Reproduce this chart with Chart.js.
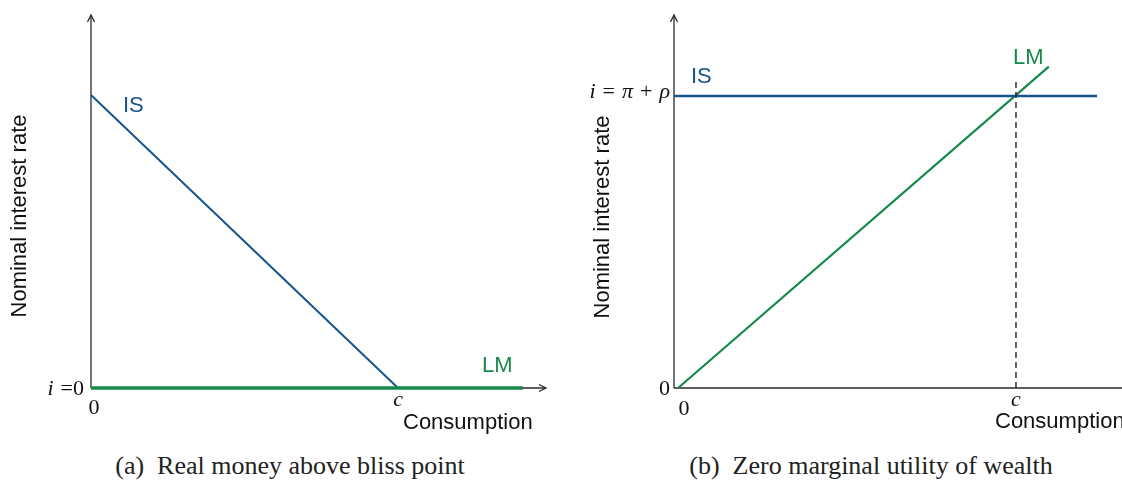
<!DOCTYPE html>
<html>
<head>
<meta charset="utf-8">
<script src="https://cdn.jsdelivr.net/npm/chart.js@4/dist/chart.umd.min.js"></script>
<style>
  body { margin: 0; background: #fff; width: 1122px; height: 485px; position: relative; overflow: hidden; }
  .panel { position: absolute; top: 0; width: 561px; height: 440px; }
  .cap { position: absolute; top: 451px; font: 26px "Liberation Serif", "Times New Roman", serif; color: #222; white-space: pre; transform: translateX(-50%); }
</style>
</head>
<body>
<div class="panel" style="left:0"><canvas id="chartA"></canvas></div>
<div class="panel" style="left:561px"><canvas id="chartB"></canvas></div>
<div class="cap" style="left:290px">(a)  Real money above bliss point</div>
<div class="cap" style="left:871px">(b)  Zero marginal utility of wealth</div>

<script>
// (a) liquidity trap: IS falls to c, LM flat at i = 0
const aIsX = [0, 1];
const aIsY = [1, 0];
const aLmX = [0, 1.407];
const aLmY = [0, 0];
const aXTickVals = [0, 1];
const aXTickText = ['0', 'c'];
const aYTickVals = [0];
const aYTickText = ['i =0'];

// (b) flat IS at i = pi + rho, LM rising through the origin
const bIsX = [0, 1.237];
const bIsY = [1, 1];
const bLmX = [0.012, 1.096];
const bLmY = [0, 1.1];
const bCutX = [1, 1];
const bCutY = [0, 1.05];
const bXTickVals = [0, 1];
const bXTickText = ['0', 'c'];
const bYTickVals = [0, 1];
const bYTickText = ['0', 'i = π + ρ'];

const BLUE = '#14558f';
const GREEN = '#16894a';
const SANS = '"Liberation Sans", Arial, sans-serif';
const SERIF = '"Liberation Serif", "Times New Roman", serif';

function pts(xs, ys) { return xs.map((x, i) => ({ x: x, y: ys[i] })); }

function line(xs, ys, color, width, dash) {
  return {
    data: pts(xs, ys), showLine: true, pointRadius: 0, borderColor: color,
    borderWidth: width, borderDash: dash || [], clip: false, tension: 0
  };
}

// letters in italic, digits and operators upright; spaces a bit wider like TeX
function mathText(ctx, str, x, y, align) {
  const parts = str.split('').map(ch => ({ ch: ch, it: /[a-zA-Z\u03b1-\u03c9]/.test(ch) }));
  const fontOf = p => (p.it ? 'italic ' : '') + '22px ' + SERIF;
  let w = 0;
  parts.forEach(p => {
    ctx.font = fontOf(p);
    p.w = ctx.measureText(p.ch).width + (p.ch === ' ' ? 1.5 : 0);
    w += p.w;
  });
  let cx = align === 'right' ? x - w : align === 'center' ? x - w / 2 : x;
  ctx.textAlign = 'left';
  parts.forEach(p => { ctx.font = fontOf(p); ctx.fillText(p.ch, cx, y); cx += p.w; });
}

function chevron(ctx, x, y, dir) {
  ctx.beginPath();
  if (dir === 'up') {
    ctx.moveTo(x - 3.5, y + 7); ctx.lineTo(x, y); ctx.lineTo(x + 3.5, y + 7);
  } else {
    ctx.moveTo(x - 7, y - 3.5); ctx.lineTo(x, y); ctx.lineTo(x - 7, y + 3.5);
  }
  ctx.stroke();
}

function axesPlugin(cfg) {
  return {
    id: 'axes',
    beforeDatasetsDraw(chart) {
      const { ctx, chartArea: a } = chart;
      ctx.save();
      ctx.strokeStyle = '#2a2a2a';
      ctx.lineWidth = 1.3;
      ctx.beginPath();
      ctx.moveTo(a.left, a.bottom); ctx.lineTo(a.left, a.top);
      ctx.moveTo(a.left, a.bottom); ctx.lineTo(a.right, a.bottom);
      ctx.stroke();
      chevron(ctx, a.left, a.top, 'up');
      if (cfg.xArrow) chevron(ctx, a.right, a.bottom, 'right');
      ctx.restore();
    },
    afterDraw(chart) {
      const { ctx } = chart;
      const xs = chart.scales.x, ys = chart.scales.y;
      ctx.save();
      ctx.fillStyle = '#111';
      ctx.textBaseline = 'alphabetic';

      cfg.xTickVals.forEach((v, i) => {
        const s = cfg.xTickText[i];
        const px = xs.getPixelForValue(v) + (s === '0' ? cfg.zeroShift : 0);
        mathText(ctx, s, px, s === '0' ? cfg.zeroBase : 406, 'center');
      });
      ctx.textBaseline = 'middle';
      cfg.yTickVals.forEach((v, i) => {
        mathText(ctx, cfg.yTickText[i], cfg.yTickRight, ys.getPixelForValue(v) + (v === 0 ? 1 : -4), 'right');
      });

      ctx.textBaseline = 'alphabetic';
      ctx.font = '22px ' + SANS;
      ctx.textAlign = 'left';
      ctx.fillText('Consumption', cfg.xTitle[0], cfg.xTitle[1]);

      ctx.save();
      ctx.translate(cfg.yTitle[0], cfg.yTitle[1]);
      ctx.rotate(-Math.PI / 2);
      ctx.textAlign = 'center';
      ctx.textBaseline = 'middle';
      ctx.fillText('Nominal interest rate', 0, 0);
      ctx.restore();

      ctx.font = '22px ' + SANS;
      ctx.fillStyle = BLUE;
      ctx.fillText('IS', cfg.isLabel[0], cfg.isLabel[1]);
      ctx.fillStyle = GREEN;
      ctx.fillText('LM', cfg.lmLabel[0], cfg.lmLabel[1]);
      ctx.restore();
    }
  };
}

function makeChart(id, datasets, xMax, yMax, pad, cfg) {
  return new Chart(document.getElementById(id), {
    type: 'scatter',
    data: { datasets: datasets },
    options: {
      responsive: true,
      maintainAspectRatio: false,
      animation: false,
      layout: { padding: pad },
      plugins: { legend: { display: false }, tooltip: { enabled: false } },
      scales: {
        x: { type: 'linear', min: 0, max: xMax, display: false },
        y: { type: 'linear', min: 0, max: yMax, display: false }
      }
    },
    plugins: [axesPlugin(cfg)]
  });
}

makeChart('chartA', [
  line(aLmX, aLmY, GREEN, 3.5),
  line(aIsX, aIsY, BLUE, 2)
], 1.482, 1.273, { left: 91, right: 15, top: 15, bottom: 52 }, {
  xArrow: true,
  xTickVals: aXTickVals, xTickText: aXTickText,
  yTickVals: aYTickVals, yTickText: aYTickText,
  zeroShift: 3, zeroBase: 414, yTickRight: 84,
  xTitle: [403, 429], yTitle: [20, 216],
  isLabel: [123, 112], lmLabel: [482, 372]
});

makeChart('chartB', [
  line(bCutX, bCutY, '#222', 1.4, [6, 4]),
  line(bIsX, bIsY, BLUE, 2.5),
  line(bLmX, bLmY, GREEN, 2.2)
], 1.31, 1.277, { left: 113, right: 0, top: 15, bottom: 52 }, {
  xArrow: false,
  xTickVals: bXTickVals, xTickText: bXTickText,
  yTickVals: bYTickVals, yTickText: bYTickText,
  zeroShift: 10, zeroBase: 415, yTickRight: 109,
  xTitle: [434, 428], yTitle: [42, 217],
  isLabel: [130, 83], lmLabel: [452, 64]
});
</script>
</body>
</html>
